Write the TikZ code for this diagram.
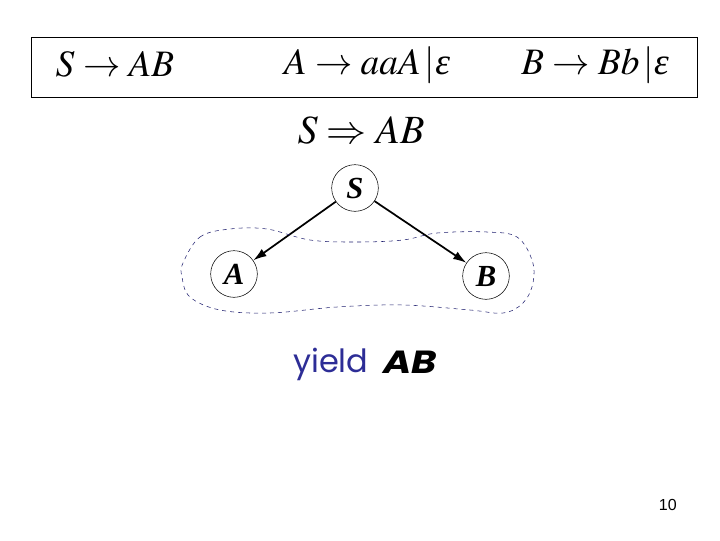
\documentclass[tikz,border=0pt]{standalone}
\usepackage{amsmath,amssymb}
\usepackage{mathptmx}
\usepackage{fontspec}
\setsansfont{Poppins}
\newfontfamily\pagefont{Liberation Sans}
\newfontfamily\tnr{Liberation Serif}
\usetikzlibrary{arrows.meta}
\definecolor{yieldblue}{RGB}{45,45,150}
\definecolor{loopblue}{RGB}{30,30,110}
\newcommand{\eps}{\text{\tnr\itshape ε}}

\begin{document}
\begin{tikzpicture}[
      x=0.75pt, y=-0.75pt,
      inner sep=0pt,
      rule/.style={font=\fontsize{28}{32}\selectfont},
      vertex/.style={circle,draw,thin,minimum size=35pt,
        font=\tnr\bfseries\itshape\fontsize{23}{25}\selectfont},
      edge/.style={-{Latex[length=10pt,width=6.5pt]},line width=1.3pt}
    ]
    \useasboundingbox (0,0) rectangle (720,540);
    \node (box) [draw,thin,minimum width=499.5pt,minimum height=45pt] at (364,67) {};
    \node (r1) [rule] at (115,64) {$S\rightarrow AB$};
    \node (r2) [rule] at (367,65) {$A\rightarrow aaA\,|\eps$};
    \node (r3) [rule] at (595,65) {$B\rightarrow Bb\,|\eps$};
    \node (step1) [rule,font=\fontsize{30}{34}\selectfont] at (361,130) {$S\Rightarrow AB$};
    \node (S) [vertex] at (355,188) {S};
    \node (A) [vertex] at (234,274) {A};
    \node (B) [vertex] at (486,276) {B};
    \draw[edge] (S) -- (A);
    \draw[edge] (S) -- (B);
    \draw[loopblue,dashed,thin] plot[smooth cycle,tension=0.6] coordinates {
      (183,263) (200,237) (230,229) (267,229) (310,240) (357,242)
      (403,240) (437,233) (487,232) (517,237) (532,260) (533,283)
      (523,303) (503,313) (470,310) (403,305) (337,307) (270,313)
      (220,310) (190,297) (182,277)};
    \node (yield) [anchor=base west,text=yieldblue,
      font=\sffamily\fontsize{24}{28}\selectfont] at (293,372) {yield};
    \node (front) [anchor=base west,
      font=\sffamily\bfseries\itshape\fontsize{24}{28}\selectfont] at (383,373)
      {\scalebox{1.2}[1]{AB}};
    \node (page) [anchor=base east,
      font=\pagefont\fontsize{12}{14}\selectfont] at (677,510) {10};
  \end{tikzpicture}
\end{document}
